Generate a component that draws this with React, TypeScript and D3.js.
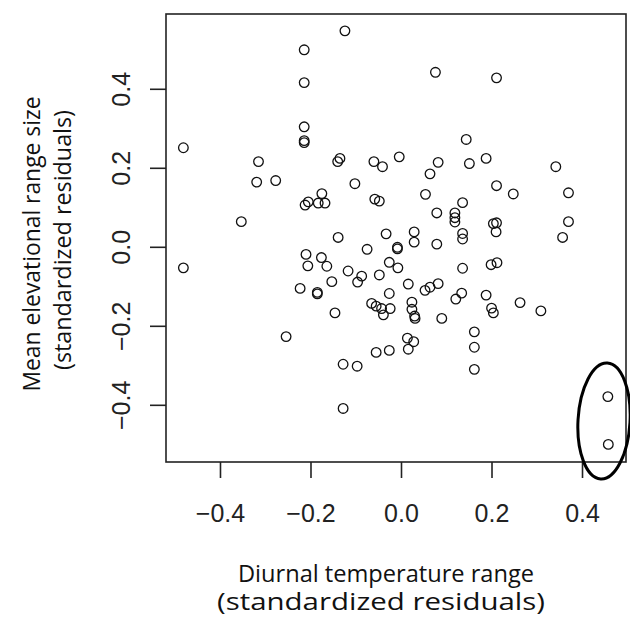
import React from 'react';
import * as d3 from 'd3';

// Diurnal temperature range (standardized residuals)
const xVals: number[] = [
  -0.125, -0.215, -0.215, -0.215, -0.215, -0.215, -0.482, -0.316, -0.320, -0.278,
  -0.136, -0.141, -0.103, -0.176, -0.213, -0.206, -0.184, -0.169, -0.354, -0.140,
  -0.482, -0.211, -0.207, -0.177, -0.165, -0.118, -0.088, -0.097, -0.154, -0.224,
  -0.186, -0.186, -0.147, -0.255, -0.129, -0.098, -0.129, 0.075, 0.210, 0.143,
  -0.061, -0.042, -0.005, 0.081, 0.150, 0.187, 0.341, 0.063, 0.210, 0.247,
  0.369, -0.059, -0.049, 0.053, 0.135, 0.078, 0.118, 0.118, 0.118, 0.369,
  -0.034, 0.028, 0.028, 0.078, 0.135, 0.135, 0.203, 0.210, 0.209, 0.356,
  -0.009, -0.009, -0.076, -0.027, -0.008, 0.135, 0.198, 0.211, -0.049, 0.015,
  -0.027, -0.066, -0.056, -0.044, -0.040, -0.025, 0.023, 0.023, 0.029, 0.030,
  0.052, 0.063, 0.081, 0.089, 0.120, 0.133, 0.187, 0.199, 0.203, 0.262,
  0.308, 0.161, 0.161, 0.161, -0.056, -0.027, 0.015, 0.027, 0.013, 0.456,
  0.457,
];

// Mean elevational range size (standardized residuals)
const yVals: number[] = [
  0.548, 0.500, 0.417, 0.305, 0.270, 0.265, 0.252, 0.217, 0.165, 0.169,
  0.225, 0.217, 0.161, 0.136, 0.107, 0.115, 0.112, 0.112, 0.065, 0.025,
  -0.052, -0.018, -0.047, -0.026, -0.048, -0.060, -0.073, -0.088, -0.087, -0.104,
  -0.114, -0.118, -0.166, -0.226, -0.296, -0.301, -0.408, 0.443, 0.429, 0.273,
  0.217, 0.204, 0.229, 0.215, 0.212, 0.225, 0.204, 0.186, 0.156, 0.135,
  0.138, 0.122, 0.117, 0.134, 0.113, 0.087, 0.087, 0.075, 0.064, 0.065,
  0.034, 0.039, 0.013, 0.008, 0.035, 0.021, 0.060, 0.062, 0.039, 0.025,
  0.000, -0.004, -0.005, -0.038, -0.052, -0.053, -0.044, -0.039, -0.070, -0.093,
  -0.117, -0.142, -0.149, -0.155, -0.171, -0.155, -0.139, -0.157, -0.174, -0.180,
  -0.109, -0.101, -0.092, -0.180, -0.131, -0.116, -0.121, -0.154, -0.166, -0.140,
  -0.161, -0.214, -0.253, -0.309, -0.266, -0.261, -0.258, -0.239, -0.230, -0.378,
  -0.499,
];

const xTicks: number[] = [-0.4, -0.2, 0.0, 0.2, 0.4];
const yTicks: number[] = [-0.4, -0.2, 0.0, 0.2, 0.4];
const xTitleLines: string[] = ['Diurnal temperature range', '(standardized residuals)'];
const yTitleLines: string[] = ['Mean elevational range size', '(standardized residuals)'];
// centre of the hand-drawn ellipse highlighting the two outliers (data units)
const highlightCentre: number[] = [0.4475, -0.4397];

export default function App() {
  const W = 630;
  const H = 617;
  const left = 166, right = 626, top = 14, bottom = 462;
  const x = d3.scaleLinear().domain([-0.5204, 0.4961]).range([left, right]);
  const y = d3.scaleLinear().domain([-0.5435, 0.5906]).range([bottom, top]);
  const fmt = d3.format('.1f');
  const pts = xVals.map((v, i) => [v, yVals[i]]);
  const ecx = x(highlightCentre[0]);
  const ecy = y(highlightCentre[1]);
  const tickFont = '"Liberation Sans", Arial, sans-serif';
  const titleFont = '"Open Sans", "Noto Sans", sans-serif';

  return (
    <svg width={W} height={H} style={{ position: 'absolute', left: 0, top: 0, background: '#fff' }}>
      <rect x={0} y={0} width={W} height={H} fill="#fff" />
      {/* points */}
      <g fill="none" stroke="#111" strokeWidth={1.3}>
        {pts.map((p, i) => (
          <circle key={i} cx={x(p[0])} cy={y(p[1])} r={4.8} />
        ))}
      </g>
      {/* box */}
      <rect x={left} y={top} width={right - left} height={bottom - top} fill="none" stroke="#222" strokeWidth={1.6} />
      {/* ticks */}
      <g stroke="#222" strokeWidth={1.6}>
        {xTicks.map((t) => (
          <line key={t} x1={x(t)} x2={x(t)} y1={bottom} y2={bottom + 16} />
        ))}
        {yTicks.map((t) => (
          <line key={t} x1={left - 16} x2={left} y1={y(t)} y2={y(t)} />
        ))}
      </g>
      <g fontFamily={tickFont} fontSize={25} fill="#222" textAnchor="middle">
        {xTicks.map((t) => (
          <text key={t} x={x(t)} y={522}>{fmt(t)}</text>
        ))}
        {yTicks.map((t) => (
          <text key={t} transform={`translate(130,${y(t)}) rotate(-90)`}>{fmt(t)}</text>
        ))}
      </g>
      {/* titles */}
      <g fontFamily={titleFont} fill="#111" textAnchor="middle" fontSize={23}>
        <text x={386} y={582} textLength={296} lengthAdjust="spacingAndGlyphs">{xTitleLines[0]}</text>
        <text x={381} y={610} textLength={328} lengthAdjust="spacingAndGlyphs">{xTitleLines[1]}</text>
        <text transform="translate(40,244) rotate(-90)" textLength={295} lengthAdjust="spacingAndGlyphs">{yTitleLines[0]}</text>
        <text transform="translate(71,240) rotate(-90)" textLength={260} lengthAdjust="spacingAndGlyphs">{yTitleLines[1]}</text>
      </g>
      {/* highlight ellipse */}
      <ellipse cx={ecx} cy={ecy} rx={26} ry={58} fill="none" stroke="#000" strokeWidth={3}
        transform={`rotate(3.3,${ecx},${ecy})`} />
    </svg>
  );
}
